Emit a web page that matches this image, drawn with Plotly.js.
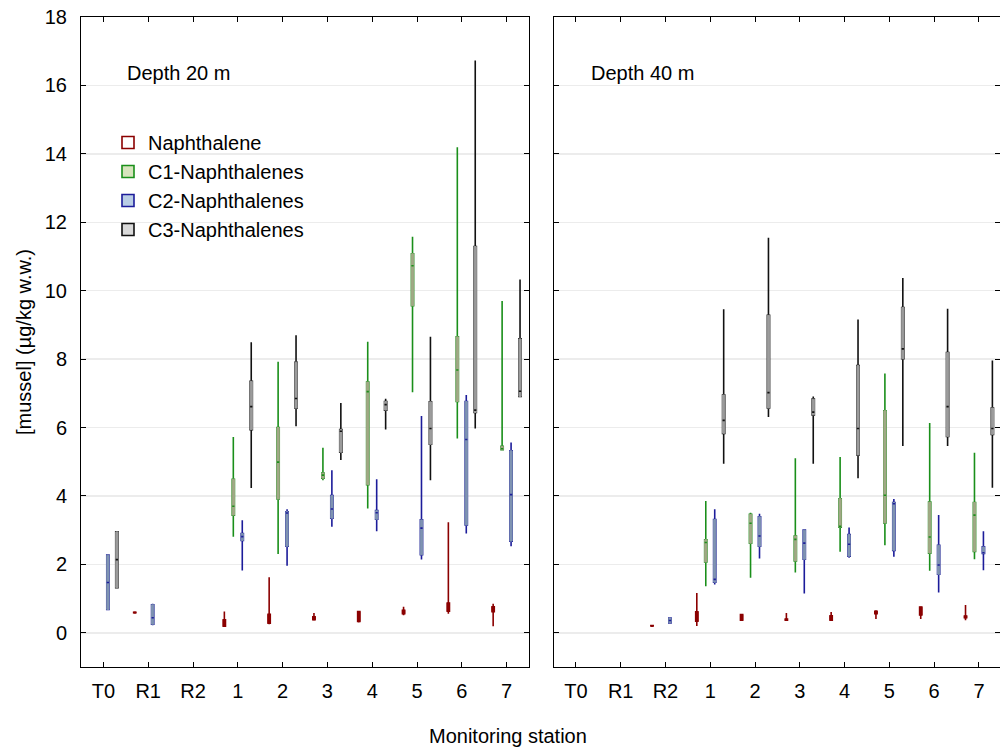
<!DOCTYPE html>
<html>
<head>
<meta charset="utf-8">
<script src="https://cdn.plot.ly/plotly-3.0.1.min.js"></script>
<style>html,body{margin:0;padding:0;background:#fff;}#chart{width:1000px;height:751px;}</style>
</head>
<body>
<div id="chart"></div>
<script>
// Monitoring stations (x categories)
const stations = ['T0', 'R1', 'R2', '1', '2', '3', '4', '5', '6', '7'];
const yTicks = [0, 2, 4, 6, 8, 10, 12, 14, 16, 18];

// Each entry: [min, q1, median, q3, max]  (null = no data)
// Depth 20 m
const naph20 = [null, [0.58, 0.59, 0.59, 0.60, 0.60], null, [0.18, 0.19, 0.30, 0.38, 0.62], [0.25, 0.28, 0.40, 0.54, 1.62], [0.37, 0.38, 0.42, 0.47, 0.58], [0.30, 0.33, 0.47, 0.62, 0.63], [0.51, 0.56, 0.62, 0.66, 0.76], [0.56, 0.63, 0.75, 0.87, 3.23], [0.19, 0.62, 0.68, 0.76, 0.85]];
const c1_20 = [null, null, null, [2.81, 3.44, 3.70, 4.49, 5.72], [2.30, 3.91, 4.99, 6.00, 7.92], [4.46, 4.52, 4.61, 4.67, 5.41], [3.63, 4.33, 7.05, 7.33, 8.51], [7.03, 9.56, 10.73, 11.08, 11.58], [5.68, 6.76, 7.68, 8.65, 14.19], [5.34, 5.35, 5.38, 5.45, 9.70]];
const c2_20 = [[0.68, 0.68, 1.47, 2.27, 2.27], [0.22, 0.25, 0.44, 0.82, 0.85], null, [1.82, 2.70, 2.81, 2.90, 3.29], [1.96, 2.53, 3.50, 3.54, 3.61], [3.10, 3.35, 3.62, 4.01, 4.75], [2.97, 3.32, 3.51, 3.57, 4.49], [2.14, 2.28, 3.06, 3.30, 6.34], [2.90, 3.15, 5.65, 6.76, 6.95], [2.53, 2.68, 4.04, 5.32, 5.56]];
const c3_20 = [[1.32, 1.32, 2.14, 2.95, 2.95], null, null, [4.23, 5.94, 6.61, 7.35, 8.49], [6.04, 6.57, 6.85, 7.91, 8.70], [5.05, 5.28, 5.89, 5.94, 6.72], [5.94, 6.51, 6.67, 6.76, 6.84], [4.46, 5.51, 5.97, 6.75, 8.65], [5.97, 6.44, 6.51, 11.29, 16.73], [6.90, 6.91, 7.06, 8.59, 10.33]];

// Depth 40 m
const naph40 = [null, null, [0.20, 0.20, 0.20, 0.21, 0.21], [0.20, 0.34, 0.48, 0.61, 1.16], [0.35, 0.37, 0.45, 0.53, 0.55], [0.37, 0.37, 0.38, 0.40, 0.58], [0.37, 0.37, 0.44, 0.50, 0.61], [0.40, 0.56, 0.60, 0.63, 0.66], [0.40, 0.52, 0.61, 0.75, 0.75], [0.37, 0.44, 0.47, 0.49, 0.81]];
const c1_40 = [null, null, null, [1.36, 2.07, 2.64, 2.72, 3.85], [1.61, 2.62, 3.20, 3.46, 3.51], [1.76, 2.10, 2.73, 2.83, 5.10], [2.37, 3.09, 3.11, 3.92, 5.14], [2.56, 3.21, 4.02, 6.49, 7.58], [1.81, 2.33, 2.80, 3.82, 6.13], [2.15, 2.38, 3.44, 3.81, 5.26]];
const c2_40 = [null, null, [0.29, 0.29, 0.36, 0.43, 0.43], [1.41, 1.48, 1.56, 3.31, 3.61], [2.17, 2.53, 2.83, 3.39, 3.48], [1.15, 2.15, 2.62, 3.00, 3.02], [2.19, 2.24, 2.59, 2.87, 3.08], [2.22, 2.41, 3.77, 3.81, 3.91], [1.18, 1.71, 1.98, 2.56, 3.44], [1.83, 2.32, 2.34, 2.51, 2.97]];
const c3_40 = [null, null, null, [4.94, 5.83, 6.21, 6.95, 9.46], [6.31, 6.57, 7.02, 9.28, 11.55], [4.94, 6.37, 6.45, 6.83, 6.91], [4.52, 5.20, 5.97, 7.81, 9.16], [5.46, 8.01, 8.30, 9.51, 10.37], [5.46, 5.74, 6.61, 8.19, 9.47], [4.24, 5.80, 5.97, 6.57, 7.96]];

const seriesNames = ['Naphthalene', 'C1-Naphthalenes', 'C2-Naphthalenes', 'C3-Naphthalenes'];
const panelTitles = ['Depth 20 m', 'Depth 40 m'];
const xTitle = 'Monitoring station';
const yTitle = '[mussel] (µg/kg w.w.)';

// styles
const styles = [
  {key: 'n',  strong: '#8b0000', box: '#8b0000', legendFill: '#ffffff'},
  {key: 'c1', strong: '#1a8f1a', box: '#a0a985', legendFill: '#d7e4bd'},
  {key: 'c2', strong: '#1c1c9a', box: '#7f93b2', legendFill: '#b9cde5'},
  {key: 'c3', strong: '#111111', box: '#9c9c9c', legendFill: '#d9d9d9'}
];

const panels = [
  {data: [naph20, c1_20, c2_20, c3_20], xa: 'x', ya: 'y', grp: 'L', legend: true},
  {data: [naph40, c1_40, c2_40, c3_40], xa: 'x2', ya: 'y2', grp: 'R', legend: false}
];

const FONT = 'Liberation Sans, Arial, sans-serif';
const FS = 20;
const traces = [];
panels.forEach(p => {
  p.data.forEach((arr, si) => {
    const st = styles[si];
    const idx = [];
    arr.forEach((v, i) => { if (v) idx.push(i); });
    const xs = idx.map(i => stations[i]);
    const col = k => idx.map(i => arr[i][k]);
    const common = {
      type: 'box', x: xs, xaxis: p.xa, yaxis: p.ya,
      offsetgroup: st.key, alignmentgroup: p.grp, legendgroup: st.key,
      boxpoints: false, whiskerwidth: 0, hoverinfo: 'skip'
    };
    // whiskers (and legend entry)
    traces.push(Object.assign({}, common, {
      name: seriesNames[si], showlegend: p.legend,
      lowerfence: col(0), q1: col(1), median: col(2), q3: col(3), upperfence: col(4),
      line: {color: st.strong, width: 1.6}, fillcolor: st.legendFill
    }));
    // interquartile box
    traces.push(Object.assign({}, common, {
      name: seriesNames[si], showlegend: false,
      lowerfence: col(1), q1: col(1), median: col(1), q3: col(3), upperfence: col(3),
      line: {color: st.box, width: 1}, fillcolor: st.box
    }));
    // median tick
    traces.push(Object.assign({}, common, {
      name: seriesNames[si], showlegend: false,
      lowerfence: col(2), q1: col(2), median: col(2), q3: col(2), upperfence: col(2),
      line: {color: st.strong, width: 1.6}
    }));
  });
});

const axBase = {
  showline: true, linecolor: '#000', linewidth: 1, mirror: 'ticks',
  ticks: 'inside', ticklen: 5, tickcolor: '#000', tickwidth: 1,
  zeroline: false, tickfont: {family: FONT, size: FS, color: '#000'}
};
const xBase = Object.assign({}, axBase, {
  type: 'category', categoryorder: 'array', categoryarray: stations,
  showgrid: false, fixedrange: true, ticklabelstandoff: 6
});
const yBase = Object.assign({}, axBase, {
  range: [-1, 18], tickvals: yTicks, showgrid: true, gridcolor: '#ececec', gridwidth: 1.5,
  ticklabelstandoff: 9
});

const layout = {
  width: 1000, height: 751,
  margin: {l: 0, r: 0, t: 17, b: 84},
  paper_bgcolor: '#fff', plot_bgcolor: '#fff',
  font: {family: FONT, size: FS, color: '#000'},
  boxmode: 'group', boxgap: 0.2, boxgroupgap: 0.75,
  showlegend: true,
  legend: {
    x: 0.108, y: 0.837, xanchor: 'left', yanchor: 'top',
    bgcolor: 'rgba(0,0,0,0)', borderwidth: 0,
    traceorder: 'grouped', tracegroupgap: 0,
    font: {family: FONT, size: FS, color: '#000'},
    itemwidth: 30
  },
  xaxis: Object.assign({}, xBase, {domain: [0.081, 0.529], range: [-0.5, 9.5], anchor: 'y'}),
  xaxis2: Object.assign({}, xBase, {domain: [0.5535, 1.0], range: [-0.5, 9.47], anchor: 'y2'}),
  yaxis: Object.assign({}, yBase, {
    anchor: 'x',
    title: {text: yTitle, font: {family: FONT, size: FS, color: '#000'}, standoff: 7}
  }),
  yaxis2: Object.assign({}, yBase, {anchor: 'x2', matches: 'y', showticklabels: false}),
  annotations: [
    {text: panelTitles[0], xref: 'paper', yref: 'paper', x: 0.125, y: 0.914, xanchor: 'left', yanchor: 'middle', showarrow: false, font: {family: FONT, size: FS, color: '#000'}},
    {text: panelTitles[1], xref: 'paper', yref: 'paper', x: 0.589, y: 0.914, xanchor: 'left', yanchor: 'middle', showarrow: false, font: {family: FONT, size: FS, color: '#000'}},
    {text: xTitle, xref: 'paper', yref: 'paper', x: 0.508, y: -0.106, xanchor: 'center', yanchor: 'middle', showarrow: false, font: {family: FONT, size: FS, color: '#000'}}
  ]
};

Plotly.newPlot('chart', traces, layout, {staticPlot: true, displayModeBar: false});
</script>
</body>
</html>
